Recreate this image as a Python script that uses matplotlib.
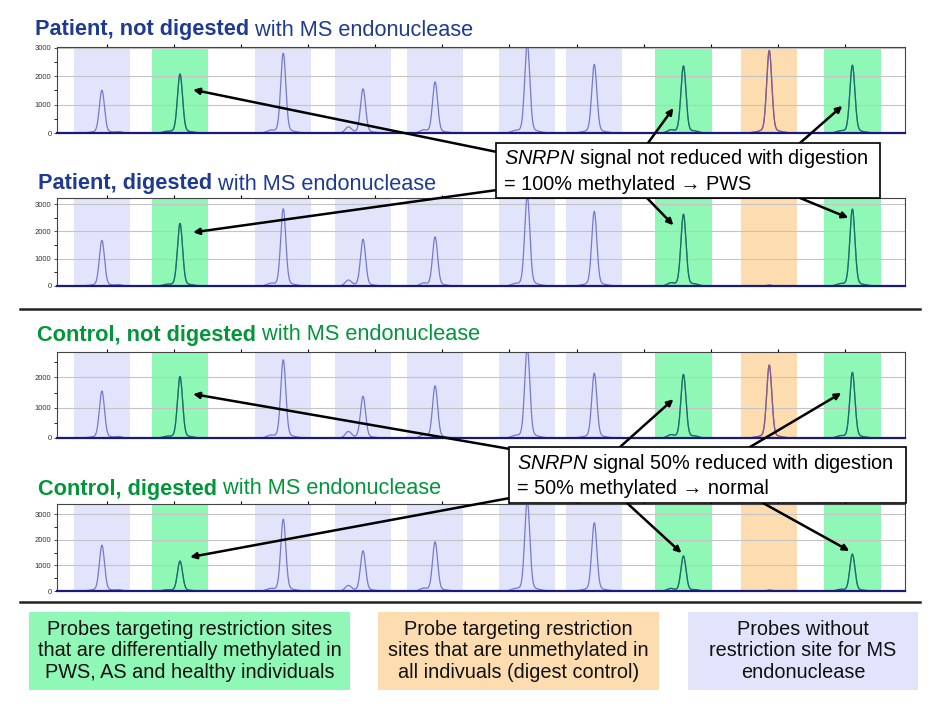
import numpy as np
import matplotlib
matplotlib.use('Agg')
import matplotlib.pyplot as plt
from matplotlib.patches import Rectangle, FancyArrowPatch

plt.rcParams['font.family'] = ['Liberation Sans', 'DejaVu Sans']
plt.rcParams['mathtext.fontset'] = 'custom'
plt.rcParams['mathtext.rm'] = 'Liberation Sans'
plt.rcParams['mathtext.it'] = 'Liberation Sans:italic'
plt.rcParams['mathtext.bf'] = 'Liberation Sans:bold'

# Probe positions (fragment size, nt) and probe type
probe_pos = [138.4, 161.7, 192.5, 216.3, 237.8, 265.3, 285.3, 311.9, 337.5, 362.3]
probe_type = ['none', 'ms', 'none', 'none', 'none', 'none', 'none', 'ms', 'ctrl', 'ms']

# Peak heights per sample
patient_undig = [1435, 1980, 2680, 1480, 1715, 3000, 2300, 2250, 2770, 2275]
patient_dig = [1590, 2180, 2690, 1630, 1710, 3150, 2600, 2500, 30, 2680]
control_undig = [1475, 1935, 2460, 1310, 1640, 2840, 2040, 2000, 2295, 2065]
control_dig = [1700, 1110, 2660, 1490, 1825, 3350, 2530, 1300, 30, 1370]

# small side peaks
bump_pos = [143.5, 157.5, 188.5, 211.9, 234.3, 261.5, 308.0, 315.5, 358.5]
bump_h = [40, 30, 60, 200, 80, 40, 80, 30, 40]

ymax = [3030, 3220, 2840, 3390]
x_ticks = [140, 160, 180, 200, 220, 240, 260, 280, 300, 320, 340, 360]

band_col = {'none': '#e1e4fa', 'ms': '#8ff8b6', 'ctrl': '#fddcb0'}
line_col = {'none': '#7478d6', 'ms': '#0f7658', 'ctrl': '#875c80'}

navy = '#1f3a93'
green = '#009639'

fig = plt.figure(figsize=(9.4, 7.1), dpi=100)
W, H = 940, 710

# axes positions in pixels: top, bottom
panel_px = [(47, 133), (198, 286), (352, 438), (504, 591)]
samples = [patient_undig, patient_dig, control_undig, control_dig]

x = np.linspace(125, 378, 4000)
axes = []
for (top, bot), heights, ym in zip(panel_px, samples, ymax):
    ax = fig.add_axes([57 / W, (H - bot) / H, 848 / W, (bot - top) / H])
    axes.append(ax)
    for p, t in zip(probe_pos, probe_type):
        ax.axvspan(p - 8.4, p + 8.4, color=band_col[t], lw=0, zorder=0.2)
    y = np.zeros_like(x)
    for p, h in zip(probe_pos, heights):
        y += h * np.exp(-(x - p) ** 2 / (2 * 0.75 ** 2)) + 0.05 * h * np.exp(-(x - p) ** 2 / (2 * 2.6 ** 2))
    for p, h in zip(bump_pos, bump_h):
        y += h * np.exp(-(x - p) ** 2 / (2 * 0.9 ** 2))
    ax.plot(x, y, color=line_col['none'], lw=0.9, zorder=2)
    for p, t in zip(probe_pos, probe_type):
        if t != 'none':
            m = np.abs(x - p) <= 8.4
            ax.plot(x[m], y[m], color=line_col[t], lw=0.9, zorder=2.1)
    ax.set_xlim(125, 378)
    ax.set_ylim(0, ym)
    ax.set_yticks([v for v in [0, 1000, 2000, 3000] if v <= ym])
    ax.set_yticks(np.arange(500, ym, 1000), minor=True)
    ax.tick_params(axis='y', labelsize=5.5, length=2.5, width=0.6, pad=1.5, colors='#333333')
    ax.tick_params(axis='y', which='minor', length=2, width=0.6)
    ax.set_xticks(x_ticks)
    ax.tick_params(axis='x', bottom=False, top=True, labelbottom=False, direction='out', length=2, width=0.8)
    ax.set_axisbelow(True)
    ax.grid(axis='y', color='#c4c4c4', lw=0.8)
    for s in ['top', 'left', 'right']:
        ax.spines[s].set_color('#444444')
        ax.spines[s].set_linewidth(0.8)
    ax.spines['bottom'].set_color('#1a1a7a')
    ax.spines['bottom'].set_linewidth(1.6)

# overlay in pixel coordinates for annotations
ov = fig.add_axes([0, 0, 1, 1])
ov.set_xlim(0, W)
ov.set_ylim(H, 0)
ov.axis('off')
ov.patch.set_alpha(0)

def to_px(ax, xy):
    return ov.transData.inverted().transform(ax.transData.transform(xy))

title_bold = ['Patient, not digested', 'Patient, digested', 'Control, not digested', 'Control, digested']
title_rest = ' with MS endonuclease'
title_pos = [(35, 30), (38, 184), (37, 335), (38, 489)]
title_col = [navy, navy, green, green]
for t, (tx, ty), c in zip(title_bold, title_pos, title_col):
    tb = ov.text(tx, ty, t, fontsize=15.7, fontweight='bold', color=c, va='center', ha='left')
    ov.annotate(title_rest, xy=(1, 0), xycoords=tb, fontsize=15.7, color=c, va='bottom', ha='left')

# divider lines
for yy in [309, 602]:
    ov.plot([20, 920], [yy, yy], color='#222222', lw=1.8)

# callout boxes
boxes = [(496, 143, 384, 55), (509, 447, 397, 56)]
box_txt = [r'$\it{SNRPN}$ signal not reduced with digestion' + '\n= 100% methylated \u2192 PWS',
           r'$\it{SNRPN}$ signal 50% reduced with digestion' + '\n= 50% methylated \u2192 normal']
for (bx, by, bw, bh), t in zip(boxes, box_txt):
    ov.add_patch(Rectangle((bx, by), bw, bh, facecolor='white', edgecolor='black', lw=1.2, zorder=5))
    ov.text(bx + 8, by + bh / 2, t, fontsize=14.3, va='center', ha='left', zorder=6, linespacing=1.3)

# arrows: panel, probe index, start px, tip x offset (nt), tip height (fraction of peak)
arrows = [(0, 1, (497, 152), 3.9, 0.77), (1, 1, (497, 190), 3.9, 0.90),
          (0, 7, (648, 143), -3.0, 0.39), (0, 9, (800, 143), -3.0, 0.42),
          (1, 7, (647, 198), -3.0, 0.89), (1, 9, (800, 198), -1.2, 0.93),
          (2, 1, (510, 449), 3.9, 0.75), (3, 1, (510, 498), 3.0, 1.19),
          (2, 7, (620, 447), -3.0, 0.64), (2, 9, (750, 447), -3.3, 0.72),
          (3, 7, (627, 503), -0.6, 1.14), (3, 9, (763, 503), -0.9, 1.14)]
for pi, k, start, dx, fr in arrows:
    h = samples[pi][k]
    tip = to_px(axes[pi], (probe_pos[k] + dx, h * fr))
    ov.add_patch(FancyArrowPatch(start, tip, arrowstyle='-|>', mutation_scale=9, color='black',
                                 lw=1.8, zorder=4, shrinkA=0, shrinkB=0))

# legend boxes
leg = [(29, 612, 321, 78, '#8ff8b6',
        'Probes targeting restriction sites\nthat are differentially methylated in\nPWS, AS and healthy individuals'),
       (378, 612, 281, 78, '#fddcb0',
        'Probe targeting restriction\nsites that are unmethylated in\nall indivuals (digest control)'),
       (688, 612, 230, 78, '#e1e4fa',
        'Probes without\nrestriction site for MS\nendonuclease')]
for lx, ly, lw_, lh, c, t in leg:
    ov.add_patch(Rectangle((lx, ly), lw_, lh, facecolor=c, edgecolor='none', zorder=1))
    ov.text(lx + lw_ / 2, ly + lh / 2, t, fontsize=14.3, ha='center', va='center', linespacing=1.19, color='#111111')

fig.savefig('out.png', dpi=100)
